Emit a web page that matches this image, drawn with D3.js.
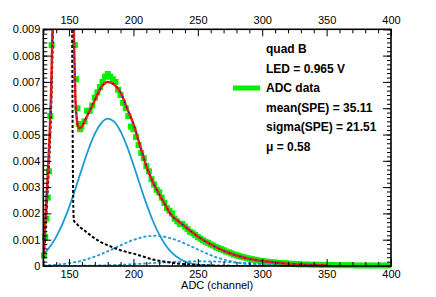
<!DOCTYPE html>
<html><head><meta charset="utf-8">
<script src="https://cdn.jsdelivr.net/npm/d3@7"></script>
<style>
body{margin:0;background:#fff;}
svg{display:block;font-family:"Liberation Sans",Arial,Helvetica,sans-serif;}
</style>
</head><body>
<svg id="c" width="436" height="297"></svg>
<script>
// ---------- data ----------
const xTicks = [150, 200, 250, 300, 350, 400];
const yTicks = [0, 0.001, 0.002, 0.003, 0.004, 0.005, 0.006, 0.007, 0.008, 0.009];
const legendTexts = ["quad B", "LED = 0.965 V", "ADC data", "mean(SPE) = 35.11", "sigma(SPE) = 21.51", "\u03bc = 0.58"];
const xTitle = "ADC (channel)";

// measured ADC spectrum (normalised)
const adcChannel = [130.5,131.5,132.5,133.5,134.5,135.5,136.5,
  153.5,154.5,155.5,156.5,157.5,158.5,159.5,
  162,164,166,168,170,172,174,176,178,180,182,184,186,188,190,192,194,196,198,200,
  202,204,206,208,210,212,214,216,218,220,222,224,226,228,230,232,234,236,238,240,
  242,244,246,248,250,252,254,256,258,260,262,264,266,268,270,272,274,276,278,280,
  282,284,286,288,290,292,294,296,298,300,302,304,306,308,310,312,314,316,318,320,
  322,324,326,328,330,
  334,338,342,346,350,354,358,362,366,370,374,378,382,386,390,394,398];
const adcValue = [0.0004,0.0011,0.0018,0.0026,0.0036,0.0057,0.0084,
  0.0095,0.0084,0.0071,0.0060,0.0054,0.0052,0.0053,
  0.0055,0.0059,0.0059,0.0061,0.0064,0.0066,0.0068,0.0070,0.0072,0.0073,0.0072,0.0071,0.0070,0.0067,0.0065,0.0062,0.0060,0.0057,0.0053,0.0052,
  0.0049,0.0046,0.0043,0.0041,0.0038,0.0036,0.0033,0.0031,0.0029,0.0028,0.0026,0.0024,0.0022,0.0021,0.0020,0.0018,0.0017,0.0016,0.0016,0.0015,
  0.0014,0.0013,0.00125,0.00118,0.0011,0.00104,0.00098,0.00092,0.00088,0.00082,0.00078,0.00072,0.00068,0.00064,0.0006,0.00055,0.00052,0.00048,0.00044,0.00041,
  0.00038,0.00035,0.00033,0.0003,0.00028,0.00026,0.00024,0.00022,0.0002,0.00019,0.00017,0.00016,0.00015,0.00014,0.00013,0.00012,0.00011,0.0001,0.0001,0.00009,
  0.00008,0.00008,0.00007,0.00007,0.00006,
  0.00006,0.00005,0.00005,0.00004,0.00004,0.00004,0.00003,0.00003,0.00003,0.00003,0.00002,0.00002,0.00002,0.00002,0.00002,0.00002,0.00002];

// fitted curves sampled at these channels
const fitX = [130,131,132,133,134,135,136,137,138,139,140,
  142,145,148,150,151,152,
  152.5,153,153.5,154,
  155,156,157,158,
  160,162,165,
  170,175,180,185,190,195,200,205,210,215,220,225,230,235,240,245,250,
  260,270,280,290,300,310,320,330,340,350];
const totalFit = [0.0004,0.0012,0.0021,0.0030,0.0040,0.0051,0.0065,0.0086,0.0115,0.016,0.022,
  0.038,0.06,0.055,0.04,0.03,0.018,
  0.014,0.011,0.0095,0.0082,
  0.0063,0.0056,0.0053,0.00525,
  0.0053,0.0055,0.0058,
  0.0063,0.0068,0.0070,0.0069,0.0066,0.0060,0.0054,0.0046,0.0038,0.0032,0.00272,0.0023,0.0019,0.0017,0.0015,0.0013,0.00112,
  0.00082,0.00058,0.0004,0.00027,0.00019,0.00013,0.00009,0.00006,0.00004,0.00003];
const pedestalFit = [0.0001,0.0008,0.0016,0.0025,0.0034,0.0045,0.0058,0.0078,0.0106,0.015,0.021,
  0.037,0.059,0.054,0.038,0.027,0.014,
  0.008,0.0035,0.0019,0.0017,
  0.00165,0.0016,0.00155,0.0015,
  0.00142,0.00135,0.00123,
  0.00105,0.0009,0.00079,0.00069,0.0006,0.00053,0.00047,0.0004,0.00032,0.00025,0.0002,0.00016,0.00012,0.00009,0.00007,0.00005,0.00004,
  0.00002,0.00001,0,0,0,0,0,0,0,0];
const spe1Fit = [0.00045,0.0005,0.00055,0.0006,0.00066,0.00072,0.00079,0.00086,0.00094,0.00102,0.00111,
  0.0013,0.00161,0.00197,0.00223,0.00237,0.00251,
  0.00258,0.00265,0.00272,0.0028,
  0.00295,0.0031,0.00325,0.0034,
  0.0037,0.004,0.00442,
  0.00502,0.00543,0.0056,0.00549,0.00512,0.00455,0.00385,0.0031,0.00237,0.00173,0.0012,0.00079,0.0005,0.0003,0.00017,0.000092,0.000047,
  0.000011,0.000002,0,0,0,0,0,0,0,0];
const spe2Fit = [0.00002,0.000022,0.000024,0.000026,0.000029,0.000032,0.000035,0.000038,0.000041,0.000045,0.000048,
  0.000057,0.000072,0.000091,0.000105,0.000113,0.000121,
  0.000125,0.00013,0.000134,0.000139,
  0.000148,0.000159,0.000169,0.00018,
  0.000204,0.000231,0.000274,
  0.000357,0.000453,0.000559,0.000672,0.000786,0.000895,0.000992,0.00107,0.001124,0.00115,0.00114,0.001106,0.00104,0.000956,0.000853,0.000741,0.000627,
  0.000413,0.000244,0.00013,0.000062,0.000026,0.00001,0.0000035,0.000001,0,0];
const spe3Fit = [0.000001,0.000001,0.000001,0.000001,0.000001,0.0000014,0.0000015,0.0000017,0.0000018,0.000002,0.000002,
  0.0000025,0.000003,0.0000038,0.0000044,0.0000047,0.000005,
  0.0000052,0.0000054,0.0000056,0.0000058,
  0.000006,0.0000065,0.000007,0.0000075,
  0.0000089,0.00001,0.000012,
  0.0000165,0.000022,0.0000287,0.000037,0.0000463,0.000057,0.00007,0.000083,0.000097,0.000112,0.000126,0.00014,0.000153,0.000163,0.000172,0.000177,0.00018,
  0.000175,0.000159,0.000134,0.000105,0.000076,0.000052,0.000033,0.000019,0.0000105,0.0000053];

// ---------- layout ----------
const L = 43.3, R = 391, T = 29.3, B = 266;
const svg = d3.select("#c");
const x = d3.scaleLinear().domain([130, 400]).range([L, R]);
const y = d3.scaleLinear().domain([0, 0.009]).range([B, T]);

const C_GREEN = "#00f000", C_RED = "#f01e0a", C_LBLUE = "#1c9ad6", C_DBLUE = "#1a1ad0";

svg.append("defs").append("clipPath").attr("id", "clip")
  .append("rect").attr("x", L).attr("y", T).attr("width", R - L).attr("height", B - T);

// data markers (drawn only if centre inside frame)
const pts = adcChannel.map((c, i) => [c, adcValue[i]])
  .filter(d => d[0] >= 130 && d[0] <= 400 && d[1] <= 0.009);
svg.append("g").selectAll("rect").data(pts).join("rect")
  .attr("x", d => x(d[0]) - 3).attr("y", d => y(d[1]) - 3)
  .attr("width", 6).attr("height", 6).attr("fill", C_GREEN);

const curves = svg.append("g").attr("clip-path", "url(#clip)");
const line = d3.line().x(d => x(d[0])).y(d => y(d[1])).curve(d3.curveMonotoneX);
const zipFit = arr => fitX.map((c, i) => [c, arr[i]]);

curves.append("path").attr("d", line(zipFit(spe3Fit))).attr("fill", "none")
  .attr("stroke", C_LBLUE).attr("stroke-width", 1.8).attr("stroke-dasharray", "3,2");
curves.append("path").attr("d", line(zipFit(spe2Fit))).attr("fill", "none")
  .attr("stroke", C_LBLUE).attr("stroke-width", 1.8).attr("stroke-dasharray", "3,2");
curves.append("path").attr("d", line(zipFit(spe1Fit))).attr("fill", "none")
  .attr("stroke", C_LBLUE).attr("stroke-width", 1.8);
curves.append("path").attr("d", line(zipFit(pedestalFit))).attr("fill", "none")
  .attr("stroke", "#000").attr("stroke-width", 2).attr("stroke-dasharray", "3,2");
curves.append("path").attr("d", line(zipFit(totalFit))).attr("fill", "none")
  .attr("stroke", C_RED).attr("stroke-width", 2.5);
curves.append("path").attr("d", line(zipFit(totalFit))).attr("fill", "none")
  .attr("stroke", C_DBLUE).attr("stroke-width", 1.3).attr("stroke-dasharray", "1.5,4");

// ---------- axes ----------
const xMinor = d3.range(130, 401, 10).filter(v => !xTicks.includes(v));
const yMinor = d3.range(0, 55).map(i => i * 0.001 / 6).filter(v => v <= 0.009);
const fmtY = d => d === 0 ? "0" : d3.format(".3f")(d);

function styleAxis(g) {
  g.select(".domain").remove();
  g.selectAll("line").attr("stroke", "#000").attr("stroke-width", 1);
  g.selectAll("text").attr("font-size", 11).attr("fill", "#000")
    .attr("font-family", '"Liberation Sans",Arial,Helvetica,sans-serif');
}
// bottom
svg.append("g").attr("transform", `translate(0,${B})`)
  .call(d3.axisBottom(x).tickValues(xMinor).tickSize(-4).tickSizeOuter(0).tickFormat("")).call(styleAxis);
svg.append("g").attr("transform", `translate(0,${B})`)
  .call(d3.axisBottom(x).tickValues(xTicks).tickSize(-7).tickSizeOuter(0).tickPadding(4).tickFormat(d3.format("d"))).call(styleAxis);
// top
svg.append("g").attr("transform", `translate(0,${T})`)
  .call(d3.axisTop(x).tickValues(xMinor).tickSize(-4).tickSizeOuter(0).tickFormat("")).call(styleAxis);
svg.append("g").attr("transform", `translate(0,${T})`)
  .call(d3.axisTop(x).tickValues(xTicks).tickSize(-7).tickSizeOuter(0).tickPadding(5).tickFormat(d3.format("d"))).call(styleAxis);
// left
svg.append("g").attr("transform", `translate(${L},0)`)
  .call(d3.axisLeft(y).tickValues(yMinor).tickSize(-4).tickSizeOuter(0).tickFormat("")).call(styleAxis);
svg.append("g").attr("transform", `translate(${L},0)`)
  .call(d3.axisLeft(y).tickValues(yTicks).tickSize(-8).tickSizeOuter(0).tickPadding(3).tickFormat(fmtY)).call(styleAxis);
// right
svg.append("g").attr("transform", `translate(${R},0)`)
  .call(d3.axisRight(y).tickValues(yMinor).tickSize(-4).tickSizeOuter(0).tickFormat("")).call(styleAxis);
svg.append("g").attr("transform", `translate(${R},0)`)
  .call(d3.axisRight(y).tickValues(yTicks).tickSize(-8).tickSizeOuter(0).tickFormat("")).call(styleAxis);

// frame
svg.append("rect").attr("x", L).attr("y", T).attr("width", R - L).attr("height", B - T)
  .attr("fill", "none").attr("stroke", "#000").attr("stroke-width", 1.6);

// x title
svg.append("text").attr("x", (L + R) / 2).attr("y", 289).attr("text-anchor", "middle")
  .attr("font-size", 11).attr("fill", "#000").text(xTitle);

// legend / info text
const legY = [52.5, 73, 92, 111.5, 131, 150.5];
const leg = svg.append("g");
legendTexts.forEach((t, i) => {
  leg.append("text").attr("x", 266).attr("y", legY[i]).attr("font-size", 12)
    .attr("font-weight", "bold").attr("fill", "#000").text(t);
});
leg.append("line").attr("x1", 233).attr("x2", 260).attr("y1", 88).attr("y2", 88)
  .attr("stroke", C_GREEN).attr("stroke-width", 5);
</script>
</body></html>
